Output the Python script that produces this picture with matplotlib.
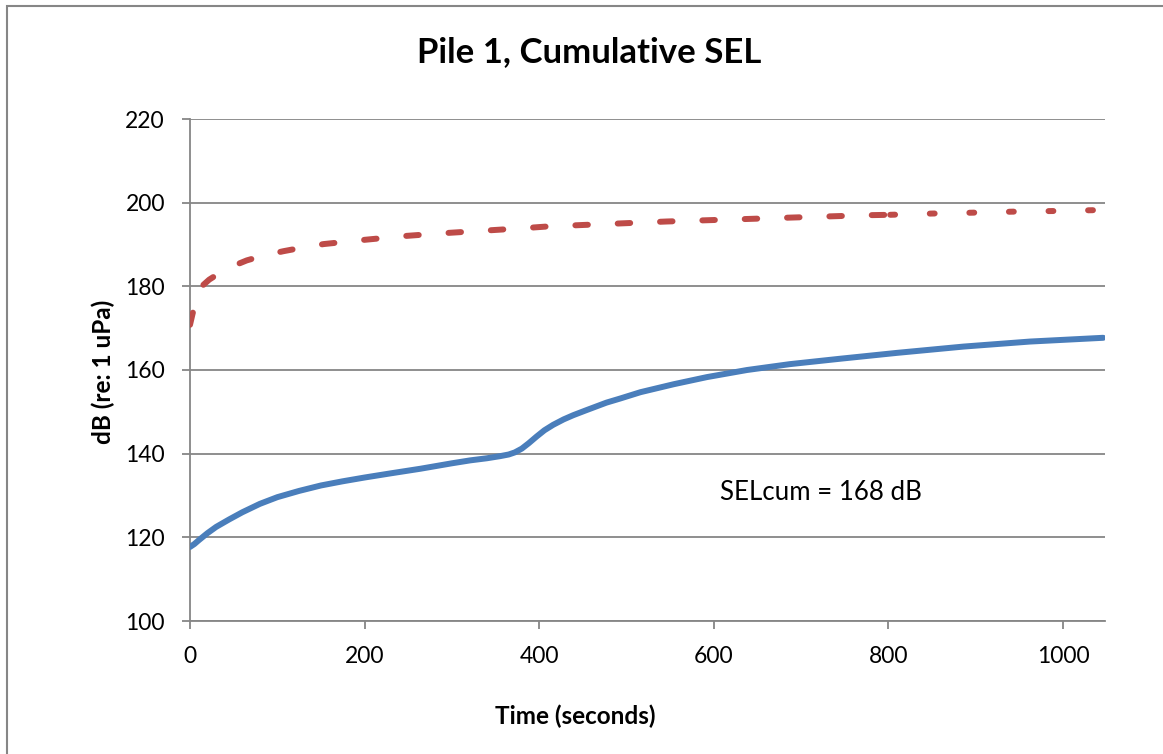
import matplotlib
matplotlib.use("Agg")
import matplotlib.pyplot as plt
from matplotlib.patches import Rectangle
import numpy as np

# Values
BLUE_X = [0, 5, 10, 20, 30, 45, 60, 80, 100, 125, 150, 175, 200, 230, 264, 300,
          321, 340, 355, 365, 372, 380, 388, 397, 406, 416, 428, 439, 454, 477,
          493, 516, 554, 592, 638, 687, 745, 810, 886, 962, 1046]
BLUE_Y = [117.7, 118.4, 119.3, 121.0, 122.5, 124.3, 126.0, 128.0, 129.6, 131.1,
          132.4, 133.4, 134.3, 135.3, 136.4, 137.7, 138.4, 138.9, 139.4, 139.8,
          140.3, 141.2, 142.5, 144.1, 145.6, 146.9, 148.2, 149.2, 150.4, 152.2,
          153.2, 154.7, 156.6, 158.3, 160.0, 161.4, 162.7, 164.1, 165.6, 166.8,
          167.7]

RED_X = [0, 3, 6, 10, 15, 22, 31, 45, 65, 85, 107, 130, 153, 199, 244, 290,
         336, 382, 409, 454, 500, 546, 592, 638, 683, 729, 775, 802, 850, 895,
         942, 988, 1034, 1046]
RED_Y = [170.8, 173.5, 175.5, 178.0, 180.3, 181.6, 182.8, 184.5, 186.2, 187.4,
         188.4, 189.3, 190.1, 191.1, 192.0, 192.7, 193.3, 193.9, 194.3, 194.7,
         195.1, 195.5, 195.8, 196.1, 196.4, 196.7, 197.0, 197.1, 197.4, 197.6,
         197.85, 198.0, 198.2, 198.2]

X_TICKS = [0, 200, 400, 600, 800, 1000]
Y_TICKS = [100, 120, 140, 160, 180, 200, 220]

TITLE = "Pile 1, Cumulative SEL"
ANNOTATION = "SELcum = 168 dB"

BLUE = "#4A7EBB"
RED = "#BE4B48"
GRID = "#868686"

plt.rcParams["font.family"] = ["Lato", "DejaVu Sans"]
plt.rcParams["lines.scale_dashes"] = False

W, H = 1163, 754
fig = plt.figure(figsize=(W / 100, H / 100), dpi=100)
ax = fig.add_axes([190 / W, 1 - 621 / H, (1105 - 190) / W, (621 - 119) / H])

# Series
ax.plot(BLUE_X, BLUE_Y, color=BLUE, lw=4.3, solid_capstyle="round",
        solid_joinstyle="round", zorder=3)

red_x = np.array(RED_X)
red_y = np.array(RED_Y)
head = red_x <= 802
tail = red_x >= 802
ax.plot(red_x[head], red_y[head], color=RED, lw=4.3, dash_capstyle="round",
        dashes=(9.0, 21.5), zorder=3)
ax.plot(red_x[tail], red_y[tail], color=RED, lw=4.3, dash_capstyle="round",
        dashes=(3.5, 25.0), zorder=3)

# Axes styling
ax.set_xlim(0, 1048)
ax.set_ylim(100, 220)
ax.set_xticks(X_TICKS)
ax.set_yticks(Y_TICKS)
ax.grid(axis="y", color=GRID, lw=1.3)
ax.set_axisbelow(True)
for side in ["top", "right"]:
    ax.spines[side].set_visible(False)
for side in ["left", "bottom"]:
    ax.spines[side].set_color(GRID)
    ax.spines[side].set_linewidth(1.3)
ax.tick_params(axis="both", colors=GRID, length=6, width=1.3, labelsize=16.5,
               labelcolor="black", pad=12)

ax.text(607, 130.8, ANNOTATION, fontsize=18.6, ha="left", va="center")

# Titles and labels
fig.text(589 / W, 1 - 52 / H, TITLE, fontsize=25, fontweight="bold",
         ha="center", va="center")
fig.text(103 / W, 1 - 372 / H, "dB (re: 1 uPa)", fontsize=17.5, fontweight="bold",
         rotation=90, ha="center", va="center")
fig.text(575 / W, 1 - 716 / H, "Time (seconds)", fontsize=17.5, fontweight="bold",
         ha="center", va="center")

# Outer chart border (right and bottom edges fall outside the image)
fig.patches.append(Rectangle((7 / W, -0.1), 1.2, 1.1 - 6 / H, fill=False,
                             edgecolor=GRID, lw=1.5, transform=fig.transFigure))

fig.savefig("out.png", dpi=100)
